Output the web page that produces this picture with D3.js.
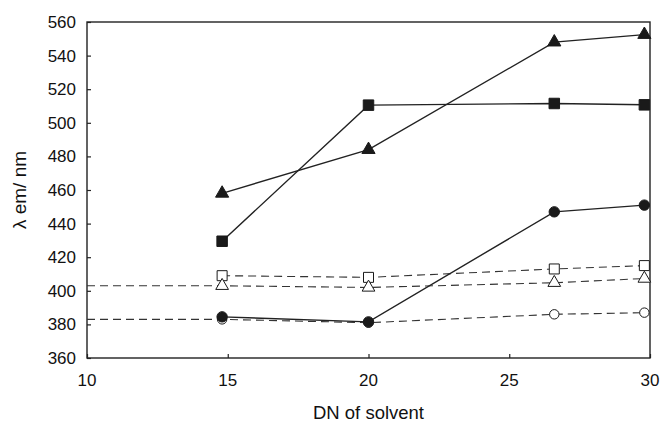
<!DOCTYPE html>
<html>
<head>
<meta charset="utf-8">
<script src="https://cdn.jsdelivr.net/npm/d3@7"></script>
<style>
  body { margin: 0; background: #fff; }
  svg { display: block; }
  text { font-family: "Liberation Sans", Arial, sans-serif; fill: #111; }
</style>
</head>
<body>
<div id="chart"></div>
<script>
// DN values of the solvents
var dn = [14.8, 20, 26.6, 29.8];
// the two lower dashed series start at the axis
var dnLead = [10, 14.8, 20, 26.6, 29.8];

var filledTri = [458, 484, 548, 552.5];
var filledSq = [429.5, 510.5, 511.5, 510.7];
var filledCirc = [384.5, 381.5, 447, 451];
var openSq = [409, 408, 413, 415];
var openTri = [403, 403, 402, 404.8, 407.3];
var openCirc = [383, 383, 381, 386, 387];

var xTicks = [10, 15, 20, 25, 30];
var yTicks = [360, 380, 400, 420, 440, 460, 480, 500, 520, 540, 560];

var W = 662, H = 422;
var margin = {left: 87, right: 12, top: 22, bottom: 64};

var svg = d3.select("#chart").append("svg")
    .attr("width", W)
    .attr("height", H);

var x = d3.scaleLinear().domain([10, 30]).range([margin.left, W - margin.right]);
var y = d3.scaleLinear().domain([360, 560]).range([H - margin.bottom, margin.top]);

var ink = "#222";

// frame
svg.append("rect")
    .attr("x", x(10))
    .attr("y", y(560))
    .attr("width", x(30) - x(10))
    .attr("height", y(360) - y(560))
    .attr("fill", "none")
    .attr("stroke", ink)
    .attr("stroke-width", 1.4);

// axes, ticks pointing inside
var xAxis = svg.append("g")
    .attr("transform", "translate(0," + y(360) + ")")
    .call(d3.axisTop(x).tickValues(xTicks).tickSize(4).tickFormat(""));
xAxis.select(".domain").remove();
xAxis.selectAll("line").attr("stroke", ink).attr("stroke-width", 1.2);

svg.append("g").selectAll("text")
    .data(xTicks)
    .join("text")
    .attr("x", function(d) { return x(d); })
    .attr("y", y(360) + 28)
    .attr("text-anchor", "middle")
    .attr("font-size", 17)
    .text(function(d) { return d; });

var yAxis = svg.append("g")
    .attr("transform", "translate(" + x(10) + ",0)")
    .call(d3.axisRight(y).tickValues(yTicks).tickSize(4).tickFormat(""));
yAxis.select(".domain").remove();
yAxis.selectAll("line").attr("stroke", ink).attr("stroke-width", 1.2);

svg.append("g").selectAll("text")
    .data(yTicks)
    .join("text")
    .attr("x", x(10) - 11)
    .attr("y", function(d) { return y(d) + 6; })
    .attr("text-anchor", "end")
    .attr("font-size", 17)
    .text(function(d) { return d; });

// axis titles
svg.append("text")
    .attr("x", (x(10) + x(30)) / 2)
    .attr("y", H - 3)
    .attr("text-anchor", "middle")
    .attr("font-size", 18.5)
    .text("DN of solvent");

svg.append("text")
    .attr("transform", "translate(26," + ((y(360) + y(560)) / 2) + ") rotate(-90)")
    .attr("text-anchor", "middle")
    .attr("font-size", 19)
    .text("λ em/ nm");

var line = d3.line()
    .x(function(d) { return x(d[0]); })
    .y(function(d) { return y(d[1]); });

function pairs(xs, ys) {
  return xs.map(function(v, i) { return [v, ys[i]]; });
}

var series = [
  {xs: dn, ys: openSq, dash: true, shape: d3.symbolSquare, size: 100, fill: false},
  {xs: dnLead, ys: openTri, dash: true, shape: d3.symbolTriangle, size: 70, fill: false},
  {xs: dnLead, ys: openCirc, dash: true, shape: d3.symbolCircle, size: 70, fill: false},
  {xs: dn, ys: filledTri, dash: false, shape: d3.symbolTriangle, size: 75, fill: true},
  {xs: dn, ys: filledSq, dash: false, shape: d3.symbolSquare, size: 110, fill: true},
  {xs: dn, ys: filledCirc, dash: false, shape: d3.symbolCircle, size: 85, fill: true}
];

series.forEach(function(s) {
  var pts = pairs(s.xs, s.ys);
  svg.append("path")
      .datum(pts)
      .attr("fill", "none")
      .attr("stroke", s.dash ? "#333" : ink)
      .attr("stroke-width", s.dash ? 1.1 : 1.4)
      .attr("stroke-dasharray", s.dash ? "8,5" : null)
      .attr("d", line);

  svg.append("g").selectAll("path")
      .data(pts.filter(function(d) { return d[0] > 10; }))
      .join("path")
      .attr("transform", function(d) { return "translate(" + x(d[0]) + "," + y(d[1]) + ")"; })
      .attr("d", d3.symbol().type(s.shape).size(s.size))
      .attr("fill", s.fill ? "#1a1a1a" : "#fff")
      .attr("stroke", "#1a1a1a")
      .attr("stroke-width", 1);
});
</script>
</body>
</html>
